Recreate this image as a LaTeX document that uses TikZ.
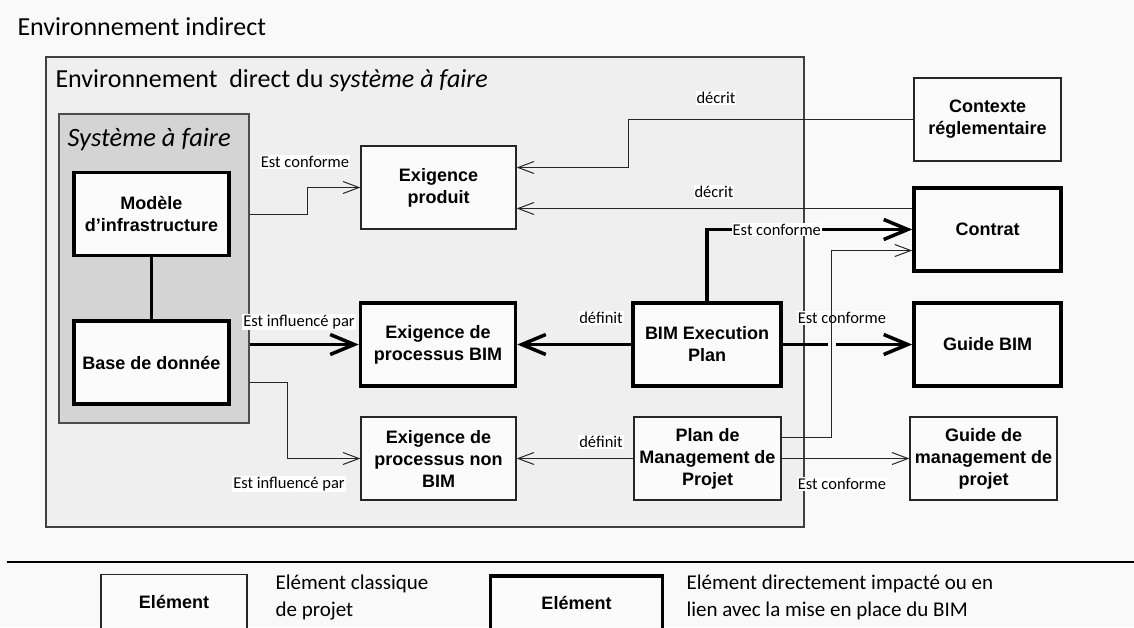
\documentclass[tikz,border=0pt]{standalone}
\usepackage{fontspec}
\setmainfont{Carlito}
\newfontfamily\boxfont{Liberation Sans}
\usetikzlibrary{arrows.meta,positioning,calc}
\definecolor{bgcol}{HTML}{F9F9F9}
\definecolor{envcol}{HTML}{EFEFEF}
\definecolor{syscol}{HTML}{D4D4D4}
\definecolor{boxcol}{HTML}{FBFBFB}
\tikzset{
    elem/.style={draw=black!85, line width=1.2pt, fill=boxcol, minimum width=155pt,
        minimum height=83pt, inner sep=2pt, align=center,
        font=\boxfont\bfseries\fontsize{18}{22}\selectfont},
    elemBIM/.style={elem, draw=black, line width=3.5pt},
    rel/.style={draw=black!85, line width=1pt, -{Straight Barb[length=16pt, width=12pt]}},
    relBIM/.style={draw=black, line width=3.5pt, -{Straight Barb[length=24pt, width=20pt]}},
    lab/.style={fill=white, inner sep=1pt, font=\fontsize{16.5}{19}\selectfont}
}
\begin{document}
\begin{tikzpicture}[x=1pt, y=-1pt]
    \clip (0,0) rectangle (1134,627);
    \fill[bgcol] (0,0) rectangle (1134,627);
    \useasboundingbox (0,0) rectangle (1134,627);

    % Environnements
    \node[anchor=west, font=\fontsize{26}{28}\selectfont] (indirect) at (14,27) {Environnement indirect};
    \draw[draw=black!75, fill=envcol, line width=1.6pt] (46,57) rectangle (804,527);
    \node[anchor=west, font=\fontsize{26}{28}\selectfont] (direct) at (52,81)
        {Environnement \ direct du \textit{système à faire}};

    % Systeme a faire
    \node[draw=black!70, fill=syscol, line width=1.6pt, minimum width=190pt,
        minimum height=309pt] (sys) at (154,268.5) {};
    \node[anchor=west, font=\itshape\fontsize{26.5}{28}\selectfont] (systitle) at (64,140) {Système à faire};
    \node[elemBIM] (mod) at (151.5,214) {Modèle\\d’infrastructure};
    \node[elemBIM, below=62pt of mod] (base) {Base de donnée};
    \draw[line width=3pt] (mod) -- (base);

    % Exigences
    \node[elem] (exprod) at (438.5,187.5) {Exigence\\produit};
    \node[elemBIM] (exbim) at (438,344.5) {Exigence de\\processus BIM};
    \node[elem] (exnon) at (438.5,458.5) {Exigence de\\processus non\\BIM};

    % Plans
    \node[elemBIM, minimum width=148pt] (bep) at (707,344.5) {BIM Execution\\Plan};
    \node[elem, minimum width=147pt] (pmp) at (707.5,458.5) {Plan de\\Management de\\Projet};

    % Environnement indirect
    \node[elem, minimum width=147pt] (ctx) at (987.5,119.5) {Contexte\\réglementaire};
    \node[elemBIM, minimum width=147pt] (contrat) at (987.5,229.5) {Contrat};
    \node[elemBIM, minimum width=147pt] (gbim) at (987.5,344.5) {Guide BIM};
    \node[elem, minimum width=147pt] (gmp) at (983.5,458.5) {Guide de\\management de\\projet};

    % Relations
    \draw[rel] (sys.east |- mod) -- ++(58,0) |- (exprod.west);
    \node[lab] (l1) at (305,162) {Est conforme};
    \draw[relBIM] (sys.east |- exbim) -- (exbim.west);
    \node[lab] (l2) at (299,322) {Est influencé par};
    \draw[rel] ($(sys.east |- base)+(0,20)$) -- ++(38,0) |- (exnon.west);
    \node[lab] (l3) at (289,484) {Est influencé par};

    \draw[rel] (ctx.west) -- ++(-285,0) |- ([yshift=20pt]exprod.east);
    \node[lab] (l4) at (716,98) {décrit};
    \draw[rel] ([yshift=21pt]contrat.west) -- ([yshift=21pt]contrat.west -| exprod.east);
    \node[lab] (l5) at (714,192) {décrit};

    \draw[relBIM] (bep.north) |- node[lab, pos=0.67] (l6) {Est conforme} (contrat.west);
    \draw[relBIM] (bep.west) -- (exbim.east);
    \node[lab] (l7) at (601,318) {définit};
    \coordinate (hop) at ($(pmp.east)+(50,-21)$);
    \draw[relBIM] (bep.east) -- (gbim.west);
    \fill[bgcol] ($(hop |- bep.east)+(-4,-3)$) rectangle ++(8,6);
    \node[lab] (l8) at (842,318) {Est conforme};
    \draw[rel] ([yshift=21pt]pmp.east) -- (hop) |- ([yshift=-21pt]contrat.west);

    \draw[rel] (pmp.west) -- (exnon.east);
    \node[lab] (l9) at (601,442) {définit};
    \draw[rel] (pmp.east) -- (gmp.west);
    \node[lab] (l10) at (842,484) {Est conforme};

    % Legende
    \draw[line width=1.2pt] (7,562) -- (1134,562);
    \node[elem, minimum width=146pt, minimum height=54pt, anchor=north] (legthin) at (174,574) {Elément};
    \node[elemBIM, minimum width=172pt, minimum height=54pt, anchor=north] (legthick) at (576.5,574) {Elément};
    \node[anchor=north west, align=left, font=\fontsize{21}{27}\selectfont] (legtxt1) at (272,571)
        {Elément classique\\de projet};
    \node[anchor=north west, align=left, font=\fontsize{21}{27}\selectfont] (legtxt2) at (683,571)
        {Elément directement impacté ou en\\lien avec la mise en place du BIM};
\end{tikzpicture}
\end{document}
